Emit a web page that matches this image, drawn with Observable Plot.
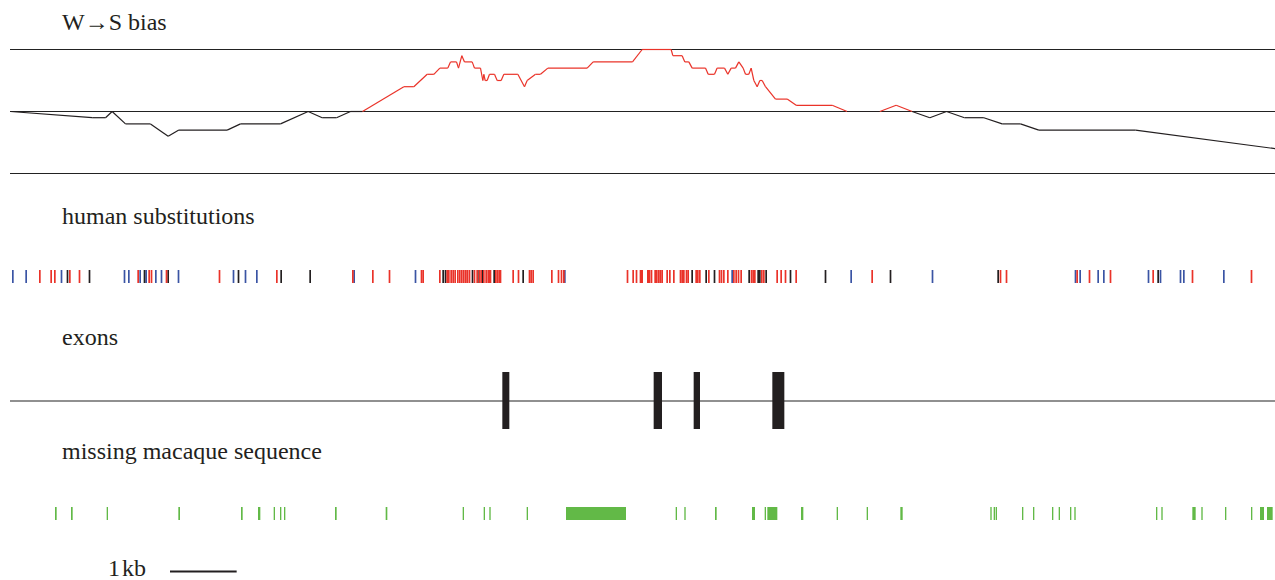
<!DOCTYPE html>
<html>
<head>
<meta charset="utf-8">
<script src="https://cdn.jsdelivr.net/npm/d3@7"></script>
<script src="https://cdn.jsdelivr.net/npm/@observablehq/plot@0.6"></script>
<style>
  html, body { margin: 0; padding: 0; background: #fff; }
  #chart { position: relative; width: 1275px; height: 580px; overflow: hidden; }
  #chart .lbl { position: absolute; font-family: "Liberation Serif", "Times New Roman", serif; font-size: 24px; line-height: 18px; color: #231f20; white-space: nowrap; }
  #chart .panel { position: absolute; left: 0; }
</style>
</head>
<body>
<div id="chart"></div>
<script>
// Genomic window (bp)
const regionLength = 18975;

// Panel titles
const panelTitles = ["W\u2192S bias", "human substitutions", "exons", "missing macaque sequence"];

// W->S bias track: position (bp), bias (in tenths, -10..10)
const biasPos = [0,1225,1425,1525,1725,2100,2365,2525,3250,3450,4050,4465,4675,4890,5100,5280,5900,6050,6250,6350,6440,6560,6600,6690,6720,6770,6810,6925,6960,7050,7085,7100,7120,7150,7185,7260,7300,7360,7400,7610,7710,7750,7875,7950,8060,8650,8740,9330,9475,9910,9935,10075,10115,10175,10225,10425,10465,10560,10600,10710,10760,10810,10875,10925,10990,11025,11075,11110,11150,11200,11240,11275,11325,11475,11650,11785,12325,12550,13040,13285,13525,13790,14040,14310,14600,14875,15150,15425,16875,18975];
const biasVal = [0,-1,-1,0,-2,-2,-4,-3,-3,-2,-2,0,-1,-1,0,0,4,4,6,6,7,7,8,8,7,9,8,8,7,7,5,6,5,5,6,6,5,5,6,6,4,5,6,6,7,7,8,8,10,10,9,9,8,8,7,7,6,6,7,7,6,7,7,8,7,6,6,7,5,4,5,5,4,2,2,1,1,0,0,1,0,-1,0,-1,-1,-2,-2,-3,-3,-6];

// Human substitutions (bp) by type
const subsWS = [440,610,665,890,1035,1915,2080,2115,2340,3135,3995,5135,5435,5685,6165,6190,
  6440,6550,6575,6610,6640,6670,6710,6740,6770,6800,6830,6855,6885,6960,7000,7035,7060,7100,7135,7165,7185,7200,7280,7305,7330,7350,
  7540,7620,7785,7810,7840,8120,8220,8265,8300,9255,9340,9390,9450,9465,9475,9560,9565,9585,9615,9670,9695,9725,9750,9775,9850,9890,9950,
  10050,10075,10100,10140,10165,10285,10310,10340,10475,10635,10665,10700,10760,10850,10885,10920,10960,11115,11140,11165,11270,11300,
  11500,11560,11625,11785,12925,14850,14940,16000,16185,16500,17140,17730,18615];
const subsSW = [35,235,765,1710,1775,1945,2035,2180,2265,2520,3345,3525,3695,5155,6075,8315,10825,12610,13830,15975,16045,16315,16400,17070,17250,17550,17600,18200];
const subsOther = [855,1185,2010,2365,3420,4060,4495,6490,6525,6930,7010,7085,7255,7690,10225,10435,10560,11080,11215,11240,11335,11700,12225,13200,14815,17215];

// Exons (bp)
const exonStart = [7385, 9655, 10255, 11435];
const exonEnd   = [7490, 9780, 10350, 11615];

// Missing macaque sequence (bp)
const missStart = [675,915,1450,2525,3465,3720,3955,4050,4110,4875,5635,6790,7105,7190,7750,8340,9985,10115,10575,11130,11320,11360,11865,12400,12850,13355,14705,14755,14785,15180,15345,15630,15730,15900,15965,17190,17270,17735,17870,18225,18615,18750,18855];
const missEnd   = [700,940,1470,2550,3490,3755,3975,4070,4130,4900,5660,6810,7125,7210,7770,9240,10005,10135,10600,11175,11340,11510,11900,12420,12870,13390,14725,14775,14805,15200,15365,15650,15750,15920,15985,17210,17290,17785,17890,18245,18635,18810,18940];

// Scale bar
const scaleStart = 2400, scaleLength = 1000, scaleLabel = "1\u200Akb";

// ---- build tables ----
const RED = "#ea3329", BLUE = "#3a54a4", BLACK = "#231f20", GREEN = "#62b947";
const segments = [];
for (let i = 0; i < biasPos.length - 1; i++) {
  const up = Math.max(biasVal[i], biasVal[i + 1]) > 0;
  segments.push({x1: biasPos[i], y1: biasVal[i], x2: biasPos[i + 1], y2: biasVal[i + 1], kind: up ? "toward S" : "toward W"});
}
const subs = [
  ...subsSW.map(p => ({pos: p, type: "S\u2192W"})),
  ...subsOther.map(p => ({pos: p, type: "other"})),
  ...subsWS.map(p => ({pos: p, type: "W\u2192S"}))
];
const exons = exonStart.map((s, i) => ({start: s, end: exonEnd[i]}));
const missing = missStart.map((s, i) => ({start: s, end: missEnd[i]}));

const base = {width: 1275, marginLeft: 10, marginRight: 0, x: {domain: [0, regionLength], axis: null}};
const chart = document.getElementById("chart");

function place(svg, top) {
  svg.classList.add("panel");
  svg.style.top = top + "px";
  chart.appendChild(svg);
}
function label(text, left, baseline) {
  const d = document.createElement("div");
  d.className = "lbl";
  d.textContent = text;
  d.style.left = left + "px";
  d.style.top = (baseline - 17) + "px";
  chart.appendChild(d);
}

// Bias panel
place(Plot.plot({
  ...base, height: 142, marginTop: 9, marginBottom: 9,
  y: {domain: [-10, 10], axis: null},
  color: {domain: ["toward S", "toward W"], range: [RED, BLACK]},
  marks: [
    Plot.ruleY([-10, 0, 10], {stroke: "#222", strokeWidth: 1.1}),
    Plot.link(segments, {x1: "x1", y1: "y1", x2: "x2", y2: "y2", stroke: "kind", strokeWidth: 1.2})
  ]
}), 40);

// Substitutions panel
place(Plot.plot({
  ...base, height: 30, marginTop: 10, marginBottom: 7,
  color: {domain: ["W\u2192S", "S\u2192W", "other"], range: [RED, BLUE, BLACK]},
  marks: [
    Plot.tickX(subs, {x: "pos", stroke: "type", strokeWidth: 1.7})
  ]
}), 260);

// Exons panel
place(Plot.plot({
  ...base, height: 80, marginTop: 12, marginBottom: 11,
  y: {domain: [-1, 1], axis: null},
  marks: [
    Plot.ruleY([0], {stroke: "#222", strokeWidth: 1.2}),
    Plot.rect(exons, {x1: "start", x2: "end", y1: -1, y2: 1, fill: BLACK})
  ]
}), 360);

// Missing macaque panel
place(Plot.plot({
  ...base, height: 30, marginTop: 7, marginBottom: 10,
  marks: [
    Plot.barX(missing, {x1: "start", x2: "end", fill: GREEN})
  ]
}), 500);

// Scale bar
place(Plot.plot({
  ...base, height: 20, marginTop: 0, marginBottom: 0,
  y: {domain: [-1, 1], axis: null},
  marks: [
    Plot.ruleY([{s: scaleStart, e: scaleStart + scaleLength}], {x1: "s", x2: "e", y: 0, stroke: BLACK, strokeWidth: 2})
  ]
}), 561);

label(panelTitles[0], 62, 30);
label(panelTitles[1], 62, 224);
label(panelTitles[2], 62, 345);
label(panelTitles[3], 62, 459);
label(scaleLabel, 108, 576);
</script>
</body>
</html>
